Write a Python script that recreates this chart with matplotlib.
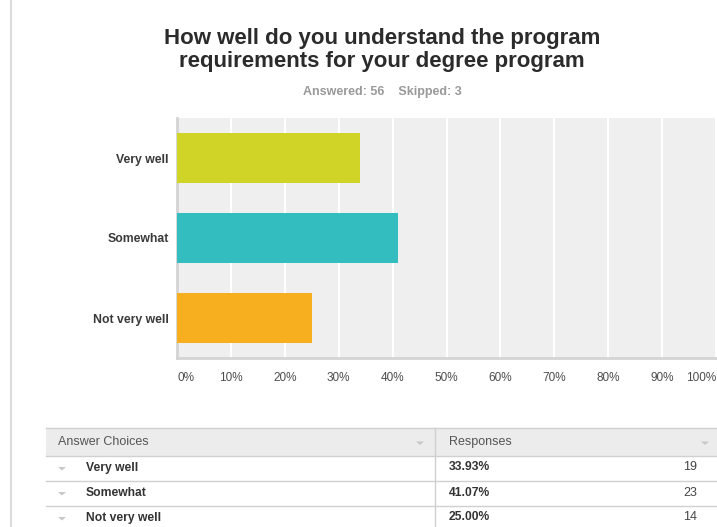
import matplotlib
matplotlib.use('Agg')
import matplotlib.pyplot as plt
from matplotlib.patches import Rectangle

plt.rcParams['font.family'] = ['Liberation Sans', 'DejaVu Sans']

# Survey results
categories = ['Very well', 'Somewhat', 'Not very well']
percents = [33.93, 41.07, 25.00]
counts = [19, 23, 14]
colors = ['#d0d426', '#33bdbf', '#f7ae1f']
answered = 56
skipped = 3
tick_values = [0, 10, 20, 30, 40, 50, 60, 70, 80, 90, 100]

W, H = 717, 527
fig = plt.figure(figsize=(W / 100, H / 100), dpi=100)
fig.patch.set_facecolor('white')

# ---- Bar chart ----
ax = fig.add_axes([177 / W, (H - 358) / H, (716 - 177) / W, (358 - 118) / H])
ax.set_facecolor('#efefef')
ypos = list(range(len(categories)))
ax.barh(ypos, percents, height=0.625, color=colors, zorder=3)
ax.set_xlim(0, 100)
ax.set_ylim(len(categories) - 0.5, -0.5)
ax.set_xticks(tick_values)
ax.grid(axis='x', color='white', linewidth=1.5, zorder=1)
ax.set_yticks(ypos)
ax.set_yticklabels(categories, fontsize=8.8, fontweight='bold', color='#3a3a3a')
ax.tick_params(axis='y', length=0, pad=6)
ax.tick_params(axis='x', length=0, pad=10)
ax.set_xticklabels([f'{v}%' for v in tick_values], fontsize=8.5, color='#4d4d4d')
lbls = ax.get_xticklabels()
lbls[0].set_ha('left')
lbls[-1].set_ha('right')
for side in ['top', 'right']:
    ax.spines[side].set_visible(False)
for side in ['left', 'bottom']:
    ax.spines[side].set_color('#d4d4d4')
    ax.spines[side].set_linewidth(2)

# ---- Overlay in pixel coordinates for title and table ----
ov = fig.add_axes([0, 0, 1, 1], zorder=-1)
ov.set_xlim(0, W)
ov.set_ylim(H, 0)
ov.axis('off')

ov.plot([11, 11], [0, H], color='#dcdcdc', linewidth=1.5)

ov.text(382, 50, 'How well do you understand the program\nrequirements for your degree program',
        ha='center', va='center', fontsize=16, fontweight='bold',
        color='#2b2b2b', linespacing=1.12)
ov.text(382, 92, f'Answered: {answered}    Skipped: {skipped}',
        ha='center', va='center', fontsize=9, fontweight='bold', color='#999999')

# Table of answers
left, mid, right = 46, 435, 717
head_top, head_bot = 428, 456
row_h = 25
ov.add_patch(Rectangle((left, head_top), right - left, head_bot - head_top,
                       facecolor='#ececec', edgecolor='none'))
ov.plot([left, right], [head_top, head_top], color='#d0d0d0', linewidth=1)
ov.plot([left, right], [head_bot, head_bot], color='#d0d0d0', linewidth=1)
ov.plot([mid, mid], [head_top, H], color='#d0d0d0', linewidth=1)
ov.text(58, 442, 'Answer Choices', ha='left', va='center', fontsize=9, color='#555555')
ov.text(449, 442, 'Responses', ha='left', va='center', fontsize=9, color='#555555')

def caret(x, y):
    # small flat dropdown arrow
    ov.fill([x - 4, x + 4, x], [y - 1.5, y - 1.5, y + 2], color='#c8c8c8', linewidth=0)

for tx in [420, 705]:
    caret(tx, 443)

for i, (cat, pct, n) in enumerate(zip(categories, percents, counts)):
    yc = head_bot + row_h * i + row_h / 2 - 1
    ybot = head_bot + row_h * (i + 1)
    ov.plot([left, right], [ybot, ybot], color='#d0d0d0', linewidth=1)
    caret(62, yc + 1)
    ov.text(86, yc, cat, ha='left', va='center', fontsize=8.7, fontweight='bold', color='#333333')
    ov.text(449, yc, f'{pct:.2f}%', ha='left', va='center', fontsize=8.7,
            fontweight='bold', color='#333333')
    ov.text(697, yc, str(n), ha='right', va='center', fontsize=9, color='#444444')

fig.savefig('out.png', dpi=100)
